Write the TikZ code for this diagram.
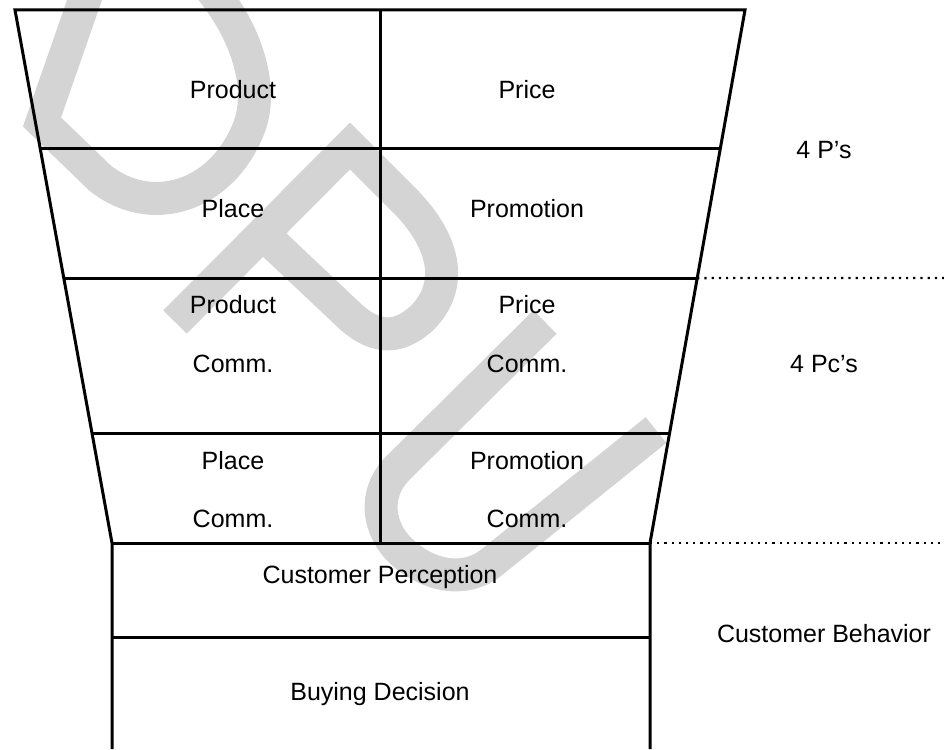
\documentclass[tikz,border=0pt]{standalone}
\usepackage{fontspec}
\setmainfont{Liberation Sans}
\usetikzlibrary{calc}
\definecolor{wmgray}{RGB}{212,212,212}
\begin{document}
\begin{tikzpicture}[x=1pt,y=-1pt,
  frame/.style={line width=3pt},
  dotline/.style={line width=2.3pt, dash pattern=on 2.2pt off 5pt},
  wm/.style={draw=wmgray, line width=33pt, line join=miter, line cap=butt},
  lbl/.style={font=\fontsize{25}{30}\selectfont, anchor=base, inner sep=0pt}]
\path[use as bounding box] (0,0) rectangle (944,749);

% light grey watermark letters D, P, U
\begin{scope}
\clip (0,0) rectangle (944,749);
\draw[wm] (95,-30) -- (42,122) -- (100,178)
  .. controls (150,218) and (220,198) .. (248,130)
  .. controls (265,90) and (248,30) .. (203,-20);
\draw[wm] (175,322) -- (350,146) -- (402,198)
  .. controls (445,240) and (455,285) .. (422,318)
  .. controls (395,343) and (372,335) .. (352,318) -- (263,234);
\draw[wm] (545,322) -- (398,468)
  .. controls (372,494) and (378,530) .. (402,552)
  .. controls (428,576) and (465,584) .. (492,562) -- (656,430);
\end{scope}

% funnel outline
\coordinate (tl) at (15,10);
\coordinate (tr) at (745,10);
\coordinate (bl) at (112,543);
\coordinate (br) at (650,543);
\coordinate (bbl) at (112,749);
\coordinate (bbr) at (650,749);
\coordinate (l1) at ($(tl)!0.259!(bl)$);
\coordinate (r1) at ($(tr)!0.259!(br)$);
\coordinate (l2) at ($(tl)!0.503!(bl)$);
\coordinate (r2) at ($(tr)!0.503!(br)$);
\coordinate (l3) at ($(tl)!0.794!(bl)$);
\coordinate (r3) at ($(tr)!0.794!(br)$);
\coordinate (mt) at (380,10);
\coordinate (mb) at (380,543);
\coordinate (cl) at (112,637);
\coordinate (cr) at (650,637);
\coordinate (d1) at (944,278);
\coordinate (d2) at (944,543);

\draw[frame] (bbl) -- (bl) -- (tl) -- (tr) -- (br) -- (bbr);
\draw[frame] (l1) -- (r1);
\draw[frame] (l2) -- (r2);
\draw[frame] (l3) -- (r3);
\draw[frame] (bl) -- (br);
\draw[frame] (mt) -- (mb);
\draw[frame] (cl) -- (cr);
\draw[dotline] (r2) -- (d1);
\draw[dotline] (br) -- (d2);

% cell labels
\node[lbl] (prod) at (233,99) {Product};
\node[lbl] (price) at (527,99) {Price};
\node[lbl] (place) at (233,217) {Place};
\node[lbl] (promo) at (527,217) {Promotion};
\node[lbl] (prodc1) at (233,313) {Product};
\node[lbl] (prodc2) at (233,372) {Comm.};
\node[lbl] (pricec1) at (527,313) {Price};
\node[lbl] (pricec2) at (527,372) {Comm.};
\node[lbl] (placec1) at (233,469) {Place};
\node[lbl] (placec2) at (233,527) {Comm.};
\node[lbl] (promoc1) at (527,469) {Promotion};
\node[lbl] (promoc2) at (527,527) {Comm.};
\node[lbl] (percep) at (380,583) {Customer Perception};
\node[lbl] (buying) at (380,700) {Buying Decision};

% side labels
\node[lbl] (fourp) at (824,158) {4 P’s};
\node[lbl] (fourpc) at (824,372) {4 Pc’s};
\node[lbl] (behav) at (824,642) {Customer Behavior};
\end{tikzpicture}
\end{document}
